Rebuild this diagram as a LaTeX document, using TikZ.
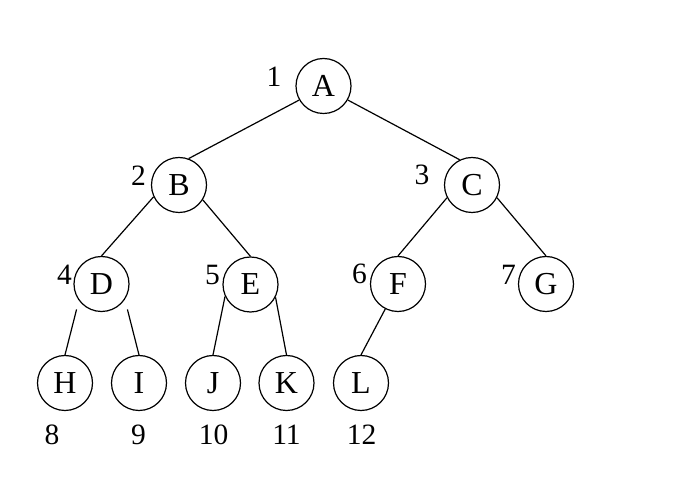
\documentclass[tikz,border=0pt]{standalone}
\usepackage{fontspec}
\setmainfont{Liberation Serif}
\usetikzlibrary{arrows,arrows.meta,positioning,calc}

\begin{document}
\begin{tikzpicture}[x=1pt,y=-1pt,line width=1.2pt,
   vertex/.style={circle, draw, minimum size=55pt, inner sep=0pt, font=\fontsize{32}{32}\selectfont},
   idx/.style={inner sep=0pt, font=\fontsize{29.5}{30}\selectfont}]
         \useasboundingbox (0,0) rectangle (689,478);
         % Define nodes
         \node[vertex] (A) at (323.5,86) {A};
         \node[vertex] (B) at (179,185) {B};
         \node[vertex] (C) at (472,185) {C};
         \node[vertex] (D) at (101.5,284) {D};
         \node[vertex] (E) at (250.5,284.5) {E};
         \node[vertex] (F) at (398,284) {F};
         \node[vertex] (G) at (546,284) {G};
         \node[vertex] (H) at (65,383) {H};
         \node[vertex] (I) at (139,383) {I};
         \node[vertex] (J) at (213,383) {J};
         \node[vertex] (K) at (286.5,383) {K};
         \node[vertex] (L) at (361,383) {L};

         % Define numbers
         \node[idx] (n1) at (274,77) {1};
         \node[idx] (n2) at (138.5,176) {2};
         \node[idx] (n3) at (422,175) {3};
         \node[idx] (n4) at (64.5,274.5) {4};
         \node[idx] (n5) at (212.5,275) {5};
         \node[idx] (n6) at (359.5,274) {6};
         \node[idx] (n7) at (508.5,274.5) {7};
         \node[idx] (n8) at (52,435) {8};
         \node[idx] (n9) at (138.5,435) {9};
         \node[idx] (n10) at (213.5,435) {10};
         \node[idx] (n11) at (286.5,435) {11};
         \node[idx] (n12) at (361.5,435) {12};

         % Draw edges
         \draw[-] (A.-150) -- (B.70);
         \draw[-] (A.-30) -- (C.116);
         \draw[-] (B.-155) -- (D.north);
         \draw[-] (B.-32) -- (E.north);
         \draw[-] (C.-153) -- (F.north);
         \draw[-] (C.-27) -- (G.north);
         \draw[-] ([shift={(-5.4,5.2)}]D.-134) -- (H.north);
         \draw[-] ([shift={(5.7,5.9)}]D.-44) -- (I.north);
         \draw[-] (E.-155) -- (J.north);
         \draw[-] (E.-27) -- (K.north);
         \draw[-] (F.-117) -- (L.north);
      \end{tikzpicture}
\end{document}
